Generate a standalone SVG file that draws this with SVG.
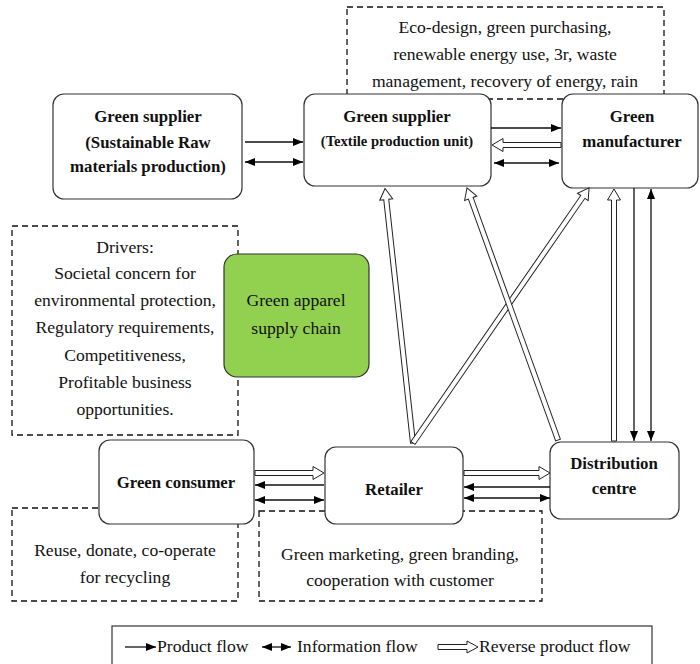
<svg xmlns="http://www.w3.org/2000/svg" width="700" height="664" viewBox="0 0 700 664">
<defs>
<marker id="ah" markerUnits="userSpaceOnUse" markerWidth="10" markerHeight="8" refX="10" refY="4" orient="auto-start-reverse">
<path d="M0,0 L10,4 L0,8 z" fill="#000"/>
</marker>
<style>
.box{fill:#fff;stroke:#333;stroke-width:1.2}
.dash{fill:none;stroke:#111;stroke-width:1.3;stroke-dasharray:6,4}
.t{font-family:'Liberation Serif','DejaVu Serif',serif;font-size:17.6px;fill:#111;text-anchor:middle}
.b{font-weight:bold;font-size:16.8px}
.s{text-anchor:start}
.ln{stroke:#111;stroke-width:1.3;fill:none}
.pf{marker-end:url(#ah)}
.inf{marker-start:url(#ah);marker-end:url(#ah)}
.rv{fill:#fff;stroke:#222;stroke-width:1}
</style>
</defs>
<rect width="700" height="664" fill="#fff"/>

<g font-family="Liberation Serif, DejaVu Serif, serif">
<g id="notes">
<rect class="dash" x="347" y="7" width="317" height="92"/>
<text class="t" x="505" y="33">Eco-design, green purchasing,</text>
<text class="t" x="505" y="60">renewable energy use, 3r, waste</text>
<text class="t" x="505" y="87">management, recovery of energy, rain</text>
</g>

<g id="drivers">
<rect class="dash" x="12" y="226" width="226" height="209"/>
<text class="t" x="125" y="253">Drivers:</text>
<text class="t" x="125" y="279">Societal concern  for</text>
<text class="t" x="125" y="306">environmental  protection,</text>
<text class="t" x="125" y="333">Regulatory requirements,</text>
<text class="t" x="125" y="361">Competitiveness,</text>
<text class="t" x="125" y="388">Profitable business</text>
<text class="t" x="125" y="415">opportunities.</text>
</g>

<g id="reuse">
<rect class="dash" x="12" y="508" width="226" height="93"/>
<text class="t" x="125" y="556">Reuse, donate, co-operate</text>
<text class="t" x="125" y="583">for recycling</text>
</g>

<g id="marketing">
<rect class="dash" x="259" y="511" width="283" height="90"/>
<text class="t" x="400" y="560">Green marketing, green branding,</text>
<text class="t" x="400" y="586">cooperation with customer</text>
</g>

<g id="raw-supplier">
<rect class="box" x="53" y="94" width="189" height="105" rx="11"/>
<text class="t b" x="148" y="122">Green supplier</text>
<text class="t b" x="148" y="148">(Sustainable Raw</text>
<text class="t b" x="148" y="172">materials production)</text>
</g>

<g id="textile-supplier">
<rect class="box" x="304" y="94" width="187" height="92" rx="11"/>
<text class="t b" x="397" y="122">Green supplier</text>
<text class="t b" x="397" y="146" style="font-size:14.6px">(Textile production unit)</text>
</g>

<g id="manufacturer">
<rect class="box" x="562" y="94" width="136" height="94" rx="11"/>
<text class="t b" x="632" y="122">Green</text>
<text class="t b" x="632" y="147">manufacturer</text>
</g>

<g id="green-apparel">
<rect x="224" y="254" width="145" height="123" rx="13" fill="#92d050" stroke="#333" stroke-width="1.2"/>
<text class="t" x="296" y="306">Green apparel</text>
<text class="t" x="296" y="334">supply chain</text>
</g>

<g id="consumer">
<rect class="box" x="99" y="440" width="155" height="84" rx="11"/>
<text class="t b" x="176" y="488">Green consumer</text>
</g>

<g id="retailer">
<rect class="box" x="325" y="447" width="138" height="77" rx="11"/>
<text class="t b" x="394" y="495">Retailer</text>
</g>

<g id="distribution">
<rect class="box" x="550" y="442" width="129" height="77" rx="11"/>
<text class="t b" x="614" y="469">Distribution</text>
<text class="t b" x="614" y="494">centre</text>
</g>

<g id="connectors">
<line class="ln pf" x1="245" y1="142" x2="303" y2="142"/>
<line class="ln inf" x1="245" y1="162" x2="303" y2="162"/>
<line class="ln pf" x1="491" y1="128" x2="561" y2="128"/>
<line class="ln inf" x1="494" y1="163" x2="559" y2="163"/>
<line class="ln pf" x1="634" y1="188" x2="634" y2="441"/>
<line class="ln inf" x1="651" y1="189" x2="651" y2="441"/>
<line class="ln pf" x1="550" y1="487" x2="464" y2="487"/>
<line class="ln inf" x1="464" y1="498" x2="550" y2="498"/>
<line class="ln pf" x1="324" y1="485" x2="255" y2="485"/>
<line class="ln inf" x1="255" y1="500" x2="324" y2="500"/>
<polygon class="rv" transform="translate(561,145) rotate(180)" points="0,-2.5 58,-2.5 58,-6.5 69,0 58,6.5 58,2.5 0,2.5"/>
<polygon class="rv" transform="translate(614,441) rotate(-90)" points="0,-2.5 241,-2.5 241,-6.5 252,0 241,6.5 241,2.5 0,2.5"/>
<polygon class="rv" transform="translate(413,443) rotate(-96.27)" points="0,-2.5 245,-2.5 245,-6.5 256,0 245,6.5 245,2.5 0,2.5"/>
<polygon class="rv" transform="translate(413,443) rotate(-55.39)" points="0,-2.5 299,-2.5 299,-6.5 310,0 299,6.5 299,2.5 0,2.5"/>
<polygon class="rv" transform="translate(558,440) rotate(-109.85)" points="0,-2.5 257,-2.5 257,-6.5 268,0 257,6.5 257,2.5 0,2.5"/>
<polygon class="rv" transform="translate(255,473)" points="0,-2.5 58,-2.5 58,-6.5 69,0 58,6.5 58,2.5 0,2.5"/>
<polygon class="rv" transform="translate(464,473)" points="0,-2.5 75,-2.5 75,-6.5 86,0 75,6.5 75,2.5 0,2.5"/>
</g>

<g id="legend">
<rect x="112" y="626" width="540" height="45" fill="#fff" stroke="#333" stroke-width="1.2"/>
<line class="ln pf" x1="125" y1="647" x2="156" y2="647"/>
<text class="t s" x="157" y="652">Product flow</text>
<line class="ln inf" x1="262" y1="647" x2="291" y2="647"/>
<text class="t s" x="297" y="652">Information flow</text>
<polygon class="rv" transform="translate(438,647)" points="0,-2.5 29,-2.5 29,-6 40,0 29,6 29,2.5 0,2.5"/>
<text class="t s" x="479" y="652">Reverse product flow</text>
</g>
</g>
</svg>
